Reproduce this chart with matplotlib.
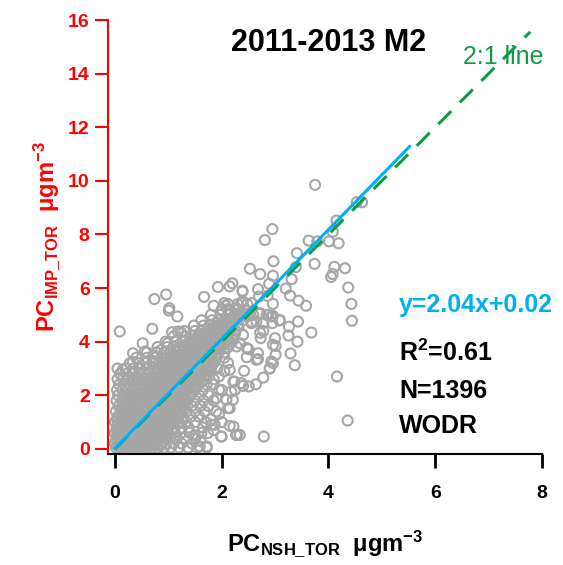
import numpy as np
import matplotlib
matplotlib.use('Agg')
import matplotlib.pyplot as plt

plt.rcParams['font.family'] = ['Liberation Sans', 'DejaVu Sans']
plt.rcParams['mathtext.fontset'] = 'custom'
plt.rcParams['mathtext.rm'] = 'Liberation Sans:bold'
plt.rcParams['mathtext.bf'] = 'Liberation Sans:bold'
plt.rcParams['mathtext.it'] = 'Liberation Sans:bold'

# dense part of the cloud, read row by row (y level, x positions)
row_y = [0.05, 0.2, 0.4, 0.6, 0.8, 1.0, 1.2, 1.4, 1.6, 1.8, 2.0, 2.2, 2.4,
         2.6, 2.8, 3.0, 3.2, 3.4, 3.6, 3.8, 4.0, 4.2, 4.4, 4.6, 4.8, 5.0,
         5.2, 5.4]
row_x = [
    [0.02, 0.1, 0.18, 0.27, 0.35, 0.44, 0.52, 0.61, 0.7, 0.8, 0.92, 1.05, 1.2, 1.37, 1.55, 1.72],
    [0.0, 0.08, 0.16, 0.25, 0.33, 0.42, 0.5, 0.58, 0.67, 0.76, 0.86, 0.97, 1.1, 1.25, 1.45],
    [0.03, 0.11, 0.2, 0.29, 0.37, 0.46, 0.55, 0.64, 0.73, 0.83, 0.93, 1.04, 1.16, 1.3, 1.5],
    [0.0, 0.08, 0.17, 0.26, 0.35, 0.44, 0.53, 0.62, 0.71, 0.8, 0.9, 1.0, 1.12, 1.24, 1.4, 1.62],
    [0.04, 0.13, 0.22, 0.31, 0.4, 0.5, 0.6, 0.7, 0.8, 0.9, 1.01, 1.12, 1.25, 1.38],
    [0.0, 0.09, 0.18, 0.28, 0.38, 0.48, 0.58, 0.68, 0.78, 0.88, 0.98, 1.08, 1.2, 1.33, 1.5, 1.7],
    [0.05, 0.15, 0.25, 0.35, 0.45, 0.55, 0.65, 0.75, 0.85, 0.95, 1.05, 1.16, 1.28, 1.42, 1.58],
    [0.02, 0.12, 0.22, 0.32, 0.42, 0.52, 0.62, 0.72, 0.82, 0.92, 1.02, 1.12, 1.23, 1.35, 1.5, 1.68, 1.9],
    [0.07, 0.17, 0.27, 0.37, 0.47, 0.57, 0.67, 0.77, 0.87, 0.97, 1.07, 1.18, 1.3, 1.44, 1.6],
    [0.03, 0.13, 0.23, 0.33, 0.43, 0.53, 0.63, 0.73, 0.83, 0.93, 1.03, 1.13, 1.24, 1.36, 1.5, 1.66, 1.85],
    [0.06, 0.16, 0.26, 0.36, 0.46, 0.56, 0.66, 0.76, 0.86, 0.96, 1.06, 1.17, 1.29, 1.42, 1.58, 1.75],
    [0.04, 0.14, 0.24, 0.34, 0.44, 0.54, 0.64, 0.74, 0.84, 0.94, 1.04, 1.14, 1.25, 1.37, 1.5, 1.65, 1.95],
    [0.08, 0.18, 0.28, 0.38, 0.48, 0.58, 0.68, 0.78, 0.88, 0.98, 1.08, 1.18, 1.3, 1.43, 1.57, 1.72],
    [0.05, 0.15, 0.25, 0.35, 0.45, 0.55, 0.65, 0.75, 0.85, 0.95, 1.05, 1.15, 1.26, 1.38, 1.52, 1.68, 1.85],
    [0.1, 0.22, 0.33, 0.44, 0.55, 0.66, 0.77, 0.88, 0.98, 1.08, 1.18, 1.29, 1.41, 1.55, 1.7],
    [0.05, 0.2, 0.35, 0.48, 0.6, 0.72, 0.83, 0.94, 1.04, 1.14, 1.24, 1.35, 1.47, 1.6, 1.75, 1.92],
    [0.28, 0.45, 0.58, 0.7, 0.82, 0.93, 1.04, 1.14, 1.24, 1.34, 1.45, 1.57, 1.7, 1.85],
    [0.4, 0.6, 0.75, 0.87, 0.98, 1.09, 1.2, 1.3, 1.4, 1.5, 1.62, 1.75, 1.9, 2.05],
    [0.6, 0.78, 0.92, 1.04, 1.15, 1.26, 1.36, 1.46, 1.56, 1.67, 1.8, 1.95],
    [0.8, 0.98, 1.1, 1.21, 1.32, 1.42, 1.52, 1.62, 1.72, 1.84, 1.97, 2.12],
    [0.95, 1.15, 1.28, 1.4, 1.5, 1.6, 1.7, 1.8, 1.9, 2.02, 2.15],
    [1.1, 1.32, 1.45, 1.56, 1.66, 1.76, 1.86, 1.96, 2.07, 2.2],
    [1.3, 1.5, 1.62, 1.73, 1.83, 1.93, 2.03, 2.14, 2.26],
    [1.48, 1.66, 1.78, 1.9, 2.0, 2.1, 2.2, 2.32],
    [1.62, 1.82, 1.95, 2.06, 2.17, 2.28, 2.4],
    [1.8, 1.98, 2.12, 2.24, 2.36, 2.5],
    [2.0, 2.15, 2.3, 2.45],
    [2.12, 2.3, 2.48],
]

# the packed band along the fit line, in between the rows above
band_y = [0.12, 0.3, 0.5, 0.7, 0.9, 1.1, 1.3, 1.5, 1.7, 1.9, 2.1, 2.3, 2.5,
          2.7, 2.9, 3.1, 3.3, 3.5, 3.7, 3.9, 4.1, 4.3, 4.5, 4.7]
band_x = [
    [0.05, 0.14, 0.23, 0.31, 0.4, 0.48, 0.57, 0.66, 0.75, 0.85],
    [0.04, 0.12, 0.21, 0.29, 0.38, 0.46, 0.54, 0.63, 0.72, 0.81, 0.91],
    [0.05, 0.13, 0.22, 0.31, 0.4, 0.49, 0.58, 0.67, 0.76, 0.86, 0.96],
    [0.03, 0.12, 0.21, 0.3, 0.39, 0.48, 0.57, 0.66, 0.75, 0.85, 0.95, 1.06],
    [0.05, 0.14, 0.23, 0.33, 0.43, 0.53, 0.63, 0.73, 0.83, 0.93, 1.04],
    [0.04, 0.13, 0.23, 0.33, 0.43, 0.53, 0.63, 0.73, 0.83, 0.93, 1.03, 1.13],
    [0.1, 0.2, 0.3, 0.4, 0.5, 0.6, 0.7, 0.8, 0.9, 1.0, 1.1, 1.2],
    [0.12, 0.22, 0.32, 0.42, 0.52, 0.62, 0.72, 0.82, 0.92, 1.02, 1.12, 1.24],
    [0.18, 0.28, 0.38, 0.48, 0.58, 0.68, 0.78, 0.88, 0.98, 1.08, 1.18, 1.3],
    [0.3, 0.4, 0.5, 0.6, 0.7, 0.8, 0.9, 1.0, 1.1, 1.2, 1.32],
    [0.4, 0.5, 0.6, 0.7, 0.8, 0.9, 1.0, 1.1, 1.2, 1.3, 1.42],
    [0.5, 0.6, 0.7, 0.8, 0.9, 1.0, 1.1, 1.2, 1.3, 1.4, 1.52],
    [0.6, 0.7, 0.8, 0.9, 1.0, 1.1, 1.2, 1.3, 1.4, 1.5, 1.62],
    [0.7, 0.8, 0.9, 1.0, 1.1, 1.2, 1.3, 1.4, 1.5, 1.6, 1.72],
    [0.8, 0.9, 1.0, 1.1, 1.2, 1.3, 1.4, 1.5, 1.6, 1.7],
    [0.9, 1.0, 1.1, 1.2, 1.3, 1.4, 1.5, 1.6, 1.7, 1.8],
    [1.0, 1.1, 1.2, 1.3, 1.4, 1.5, 1.6, 1.7, 1.8],
    [1.1, 1.2, 1.3, 1.4, 1.5, 1.6, 1.7, 1.8, 1.9],
    [1.2, 1.3, 1.4, 1.5, 1.6, 1.7, 1.8, 1.9],
    [1.35, 1.45, 1.55, 1.65, 1.75, 1.85, 1.95, 2.05],
    [1.5, 1.6, 1.7, 1.8, 1.9, 2.0, 2.1],
    [1.62, 1.72, 1.82, 1.92, 2.02, 2.12],
    [1.75, 1.85, 1.95, 2.05, 2.15],
    [1.9, 2.0, 2.1, 2.2],
]

# scattered points around the cloud
outer_x = [3.75, 4.53, 4.63, 4.15, 4.08, 2.95, 2.81, 3.63, 3.79, 4.01, 4.19, 3.41,
           2.97, 3.74, 2.53, 3.39, 4.11, 4.31, 2.72, 2.96, 4.08, 4.05, 3.31, 2.89,
           2.39, 2.68, 3.2, 4.37, 3.28, 3.44, 2.96, 3.58, 4.43, 2.4,
           4.44, 3.43, 3.68, 3.25, 3.26, 3.42, 3.08, 3.29, 3.37, 3.01, 3.01, 2.96,
           2.9, 2.78, 2.64, 2.51, 2.42, 2.68, 2.68, 2.47, 2.5, 4.16, 4.36, 2.79,
           2.34, 2.72, 2.78, 2.73, 2.87, 2.96, 2.95, 2.59, 2.7, 2.56, 2.4, 2.34,
           0.74, 0.96, 1.02, 1.67, 1.93, 2.15, 2.2, 2.39, 1.85, 2.05, 2.07, 2.37, 2.27,
           0.09, 0.7, 1.01, 1.17, 1.07, 1.18, 1.24, 0.52, 0.34, 0.56, 0.34, 0.71,
           0.87, 0.99, 0.15, 1.74, 1.99, 2.15, 2.27, 1.87, 2.37, 2.24, 2.18, 2.21,
           2.12, 2.4, 2.7, 2.56, 2.86, 2.11, 2.34, 2.47, 2.72, 2.84, 2.93, 3.09,
           2.65, 2.78, 2.56, 3.0, 2.96, 2.93, 2.9, 2.65, 2.47, 2.28, 2.22, 2.12,
           2.15, 2.22, 2.25, 2.09, 2.15, 2.22, 2.29, 2.0, 1.81, 1.72, 1.59, 1.37,
           1.8, 1.95, 2.05, 1.85, 2.0, 1.9, 1.75, 1.95, 1.8, 2.0, 1.65, 1.85,
           1.5, 1.6, 1.9, 2.05, 2.15, 2.25, 2.3, 2.1]
outer_y = [9.85, 9.2, 9.2, 8.52, 8.1, 8.2, 7.79, 7.77, 7.74, 7.74, 7.67, 7.3,
           7.0, 6.9, 6.72, 6.78, 6.79, 6.74, 6.52, 6.46, 6.52, 6.41, 6.33, 6.16,
           5.9, 5.96, 5.98, 6.02, 5.72, 5.53, 5.41, 5.34, 5.41, 5.5,
           4.78, 4.75, 4.34, 4.23, 4.56, 4.0, 4.79, 3.56, 3.12, 3.84, 3.51, 3.2,
           2.99, 2.66, 2.41, 2.33, 2.91, 3.57, 3.35, 3.42, 3.72, 2.7, 1.06, 0.46,
           0.52, 4.33, 4.4, 4.13, 5.0, 4.96, 4.69, 5.0, 5.04, 4.69, 4.25, 3.94,
           5.59, 5.76, 5.25, 5.67, 6.04, 6.06, 6.18, 5.87, 5.34, 5.44, 5.34, 5.44, 5.25,
           4.38, 4.48, 5.16, 4.94, 4.35, 4.38, 4.35, 3.94, 3.57, 3.63, 3.24, 3.28,
           3.69, 3.94, 2.95, 0.59, 0.46, 0.86, 0.52, 0.9, 2.45, 2.51, 2.14, 1.83,
           1.52, 2.35, 5.68, 5.44, 5.71, 5.21, 5.06, 4.94, 5.06, 5.0, 4.94, 4.81,
           4.75, 4.69, 4.75, 4.13, 3.88, 3.26, 3.01, 3.32, 3.76, 3.82, 4.07, 3.2,
           2.95, 2.51, 2.2, 1.83, 1.52, 0.83, 0.52, 0.46, 0.9, 0.09, 0.09, 0.03,
           3.0, 2.7, 2.9, 2.4, 2.2, 1.9, 1.6, 1.3, 1.1, 1.0, 0.8, 0.7,
           0.5, 0.3, 3.4, 3.6, 3.9, 4.3, 4.6, 4.1]

slope, intercept = 2.04, 0.02
fit_xmax = 5.52
ref_xmax = 7.78

x_core = [x for xs in row_x + band_x for x in xs]
y_core = [y for y, xs in zip(row_y + band_y, row_x + band_x) for x in xs]
px = np.array(x_core + outer_x)
py = np.array(y_core + outer_y)

fig = plt.figure(figsize=(5.63, 5.65), dpi=100)
ax = fig.add_axes([0.1927, 0.1965, 0.770, 0.7681])

ax.scatter(px, py, s=52, facecolors='none', edgecolors='#A6A6A6',
           linewidths=1.5, zorder=2)

xr = np.array([0, ref_xmax])
ax.plot(xr, 2 * xr, color='#0E9A48', lw=2.2, dashes=(6, 4), zorder=3)
xf = np.array([0, fit_xmax])
ax.plot(xf, slope * xf + intercept, color='#00B0F0', lw=2.2, zorder=4)

ax.set_xlim(-0.12, 8.0)
ax.set_ylim(-0.19, 16)
ax.set_xticks([0, 2, 4, 6, 8])
ax.set_yticks(np.arange(0, 17, 2))

for s in ['top', 'right']:
    ax.spines[s].set_visible(False)
ax.spines['left'].set_color('red')
ax.spines['left'].set_linewidth(1.5)
ax.spines['bottom'].set_linewidth(1.5)
ax.tick_params(axis='x', direction='out', length=10, width=2,
               color='black', pad=12, labelsize=14)
ax.tick_params(axis='y', direction='out', length=9.5, width=1.5, pad=4,
               labelsize=14, colors='red')
for lab in ax.get_xticklabels() + ax.get_yticklabels():
    lab.set_fontweight('bold')

ax.set_xlabel(r'PC$_{NSH\_TOR}$  μgm$^{-3}$', fontsize=17, fontweight='bold',
              labelpad=19)
ax.set_ylabel(r'PC$_{IMP\_TOR}$  μgm$^{-3}$', fontsize=17, fontweight='bold',
              color='red', labelpad=4)

ax.text(4.0, 15.15, '2011-2013 M2', fontsize=22, fontweight='bold',
        ha='center', va='center')
ax.text(6.52, 14.63, '2:1 line', fontsize=18, color='#0E9A48',
        ha='left', va='center')
ax.text(5.32, 5.37, 'y=2.04x+0.02', fontsize=18, fontweight='bold',
        color='#00B0F0', ha='left', va='center')
ax.text(5.32, 3.58, r'R$^{2}$=0.61', fontsize=18, fontweight='bold',
        ha='left', va='center')
ax.text(5.32, 2.16, 'N=1396', fontsize=18, fontweight='bold',
        ha='left', va='center')
ax.text(5.32, 0.86, 'WODR', fontsize=18, fontweight='bold',
        ha='left', va='center')

fig.savefig('out.png', dpi=100)
